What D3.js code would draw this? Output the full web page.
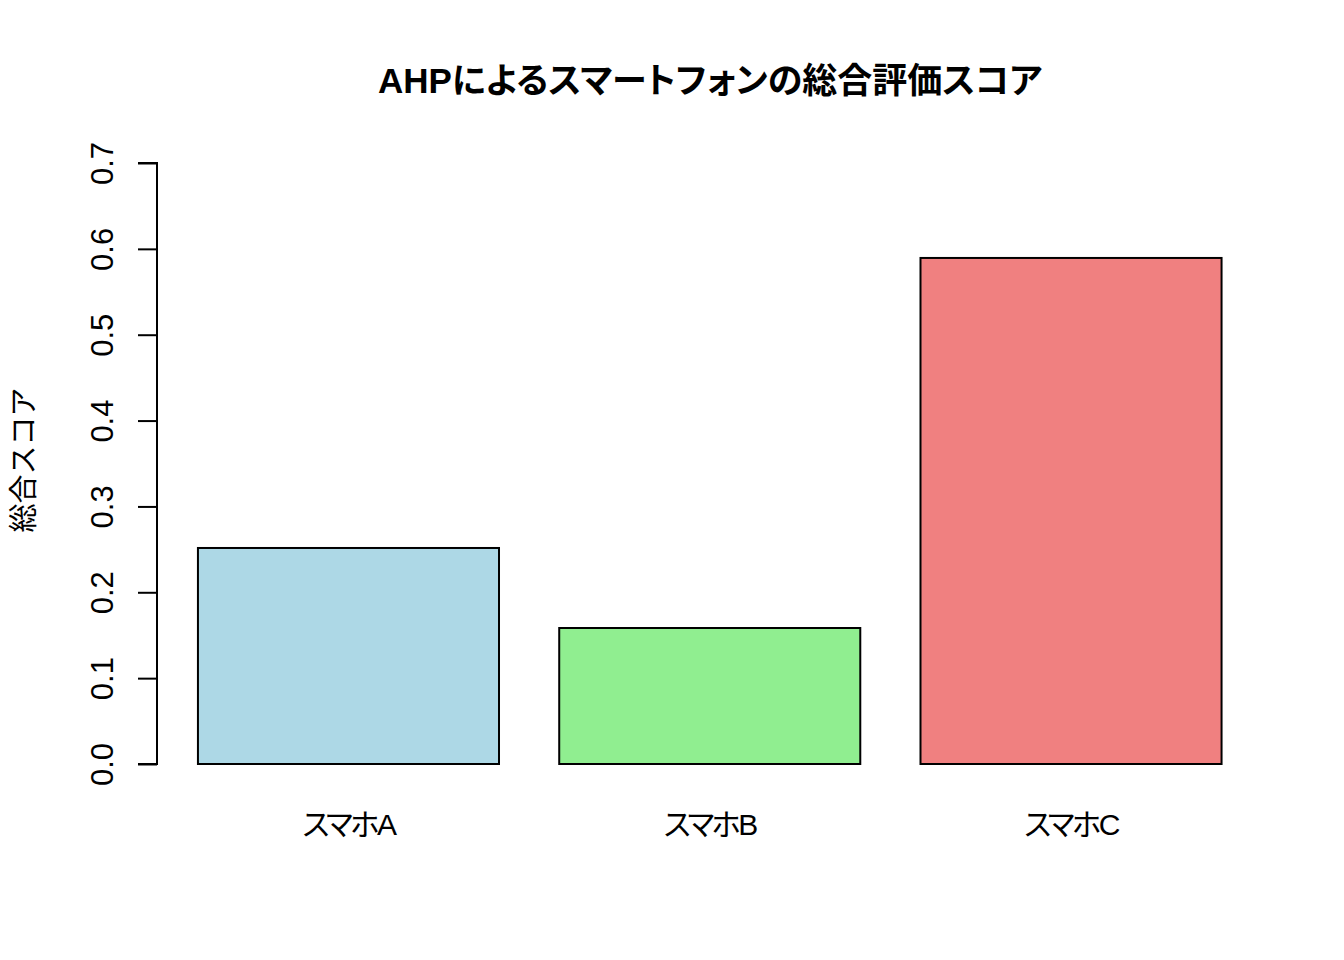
<!DOCTYPE html>
<html><head><meta charset="utf-8">
<script src="https://cdn.jsdelivr.net/npm/d3@7"></script>
<style>body{margin:0;background:#fff}</style>
</head><body>
<svg id="c" width="1344" height="960"></svg>
<script>
const categories = ["スマホA", "スマホB", "スマホC"];
const scores = [0.2516, 0.1584, 0.5894];
const colors = ["#ADD8E6", "#90EE90", "#F08080"];
const yTicks = [0, 0.1, 0.2, 0.3, 0.4, 0.5, 0.6, 0.7];
const titleText = "AHPによるスマートフォンの総合評価スコア";
const yLabel = "総合スコア";

const font = "'Liberation Sans', Arial, 'Noto Sans CJK JP', sans-serif";
const svg = d3.select("#c");
// R barplot geometry: width 1, space 0.2
const left = categories.map((d, i) => 0.2 + 1.2 * i);
const x = d3.scaleLinear().domain([0.064, 3.736]).range([157, 1262.5]);
const y = d3.scaleLinear().domain([0, 0.7]).range([764, 163]);

svg.selectAll("rect.bar").data(scores).enter().append("rect")
  .attr("x", (d, i) => x(left[i]))
  .attr("width", (d, i) => x(left[i] + 1) - x(left[i]))
  .attr("y", d => y(d))
  .attr("height", d => y(0) - y(d))
  .attr("fill", (d, i) => colors[i])
  .attr("stroke", "#000").attr("stroke-width", 2);

const ax = svg.append("g").attr("transform", "translate(157,0)")
  .call(d3.axisLeft(y).tickValues(yTicks).tickSize(19).tickPadding(0).tickFormat(d3.format(".1f")));
ax.select(".domain").attr("d", `M-19,${y(0.7)}H0V${y(0)}H-19`).attr("stroke-width", 2);
ax.selectAll(".tick line").attr("stroke-width", 2);
ax.selectAll(".tick text")
  .attr("font-family", font).attr("font-size", 31).attr("fill", "#000")
  .attr("text-anchor", "middle").attr("x", 0).attr("dy", 0)
  .attr("transform", "translate(-44,0) rotate(-90)");

svg.selectAll("text.xl").data(categories).enter().append("text")
  .attr("x", (d, i) => x(left[i] + 0.5)).attr("y", 835)
  .attr("text-anchor", "middle").attr("font-family", font).attr("font-size", 30)
  .style("font-feature-settings", "'palt'").style("letter-spacing", "-2.5px")
  .text(d => d);

svg.append("text").attr("x", 710).attr("y", 93).attr("text-anchor", "middle")
  .attr("font-family", font).attr("font-size", 35).attr("font-weight", "bold")
  .style("font-feature-settings", "'palt'")
  .text(titleText);

svg.append("text").attr("transform", "translate(34,460) rotate(-90)")
  .attr("text-anchor", "middle").attr("font-family", font).attr("font-size", 29)
  .text(yLabel);
</script>
</body></html>
